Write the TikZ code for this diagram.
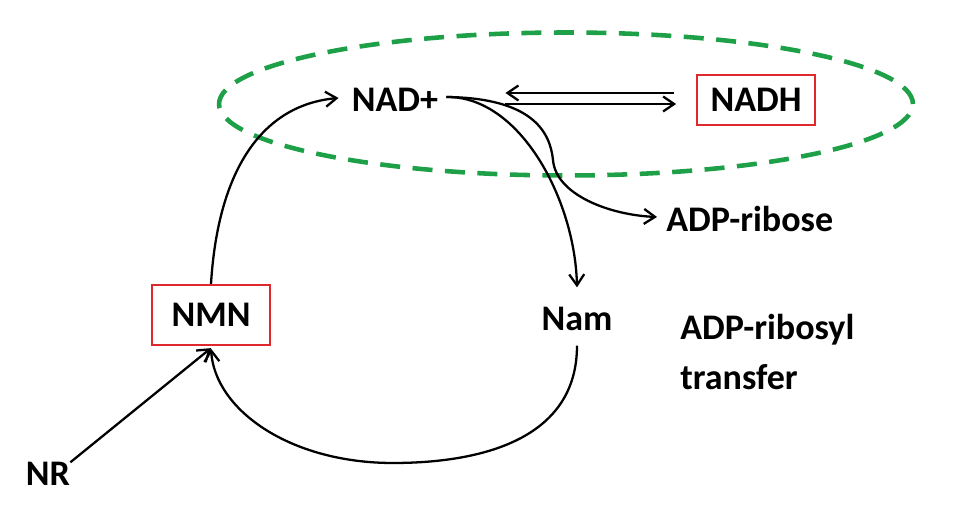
\documentclass[tikz,border=0pt]{standalone}
\usepackage{fontspec}
\setmainfont{Carlito}
\usetikzlibrary{arrows.meta}
\definecolor{dashgreen}{RGB}{30,160,72}
\definecolor{boxred}{RGB}{222,40,44}
\tikzset{
	lbl/.style={font=\bfseries\fontsize{20.5}{24}\selectfont, text height=12.9pt, text depth=0pt, inner sep=0pt},
	redbox/.style={lbl, draw=boxred, line width=1.3pt, minimum width=2.35cm},
	arr/.style={line width=1.3pt, -{Straight Barb[length=2.2mm,width=3mm]}},
	greendash/.style={draw=dashgreen, line width=2.6pt, dash pattern=on 0.4cm off 0.25cm}
}
\begin{document}
\begin{tikzpicture}[x=0.02cm, y=-0.02cm]
			\useasboundingbox (0,0) rectangle (958,519);
			\draw[greendash] (566,104) ellipse [x radius=6.94cm, y radius=1.43cm];
			\node[lbl] (nad) at (395,100) {NAD+};
			\node[redbox, minimum height=1cm] (nadh) at (756,100) {NADH};
			\node[lbl, anchor=west] (adpr) at (666,220) {ADP-ribose};
			\node[lbl] (nam) at (577,319) {Nam};
			\node[lbl, anchor=west] (transfer1) at (680,328) {ADP-ribosyl};
			\node[lbl, anchor=west] (transfer2) at (680,378) {transfer};
			\node[redbox, minimum height=1.2cm] (nmn) at (211,315) {NMN};
			\node[lbl] (nr) at (48,474) {NR};
			\draw[arr] ([yshift=0.14cm, xshift=-0.44cm]nadh.west) -- ([yshift=0.14cm, xshift=1.34cm]nad.east);
			\draw[arr] ([yshift=-0.08cm, xshift=1.34cm]nad.east) -- ([yshift=-0.08cm, xshift=-0.4cm]nadh.west);
			\draw[arr] ([xshift=0.16cm, yshift=0.06cm]nad.east) .. controls (520,96) and (575,200) .. ([yshift=0.4cm]nam.north);
			\draw[arr] ([xshift=0.16cm, yshift=0.06cm]nad.east) .. controls (530,98) and (550,130) .. (553,160) .. controls (556,195) and (610,215) .. ([xshift=-0.18cm, yshift=0.06cm]adpr.west);
			\draw[arr] (nmn.north) .. controls (218,170) and (262,105) .. ([xshift=-0.26cm, yshift=0.04cm]nad.west);
			\draw[arr] ([yshift=-0.3cm]nam.south) .. controls (577,440) and (480,463) .. (393,463) .. controls (290,463) and (215,410) .. ([yshift=-0.05cm]nmn.south);
			\draw[arr] (nr.north east) -- ([yshift=-0.04cm]nmn.south);
		\end{tikzpicture}
\end{document}
